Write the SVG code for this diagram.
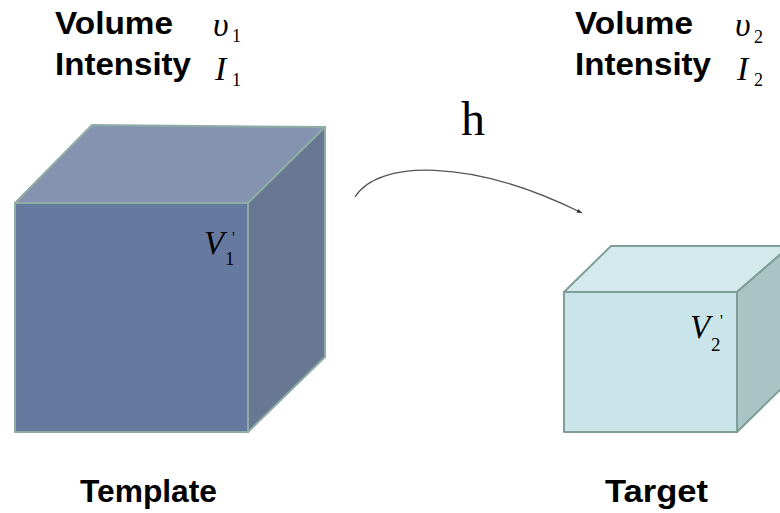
<svg xmlns="http://www.w3.org/2000/svg" width="780" height="513" viewBox="0 0 780 513">
<style>
.lbl{font-family:"Liberation Sans",Arial,sans-serif;font-weight:bold;fill:#000}
.math{font-family:"Liberation Serif","Times New Roman",serif;font-style:italic;fill:#000}
.sub{font-family:"Liberation Serif","Times New Roman",serif;fill:#000}
.c1{stroke:#8fada6;stroke-width:2;stroke-linejoin:round}
.c2{stroke:#7f9e99;stroke-width:2;stroke-linejoin:round}
</style>
<defs>
<marker id="arr" markerWidth="6" markerHeight="6" refX="3" refY="3" orient="auto" markerUnits="userSpaceOnUse">
<path d="M0,1 L6,3 L0,5 Z" fill="#333"/>
</marker>
</defs>
<rect width="780" height="513" fill="#fff"/>

<g id="labels-template">
<text class="lbl" x="55" y="34" font-size="32" textLength="118" lengthAdjust="spacingAndGlyphs">Volume</text>
<text class="lbl" x="55" y="75" font-size="32" textLength="136" lengthAdjust="spacingAndGlyphs">Intensity</text>
<text class="math" x="213" y="36" font-size="34">υ</text>
<text class="sub" x="232" y="42" font-size="18">1</text>
<text class="math" x="215" y="80" font-size="34">I</text>
<text class="sub" x="232" y="86" font-size="18">1</text>
</g>

<g id="labels-target">
<text class="lbl" x="575" y="34" font-size="32" textLength="118" lengthAdjust="spacingAndGlyphs">Volume</text>
<text class="lbl" x="575" y="75" font-size="32" textLength="136" lengthAdjust="spacingAndGlyphs">Intensity</text>
<text class="math" x="735" y="36" font-size="34">υ</text>
<text class="sub" x="754" y="43" font-size="18">2</text>
<text class="math" x="737" y="80" font-size="34">I</text>
<text class="sub" x="754" y="86" font-size="18">2</text>
</g>

<g id="template-cube">
<polygon class="c1" points="15,203 92,125 325,127 248,203" fill="#8593b0"/>
<polygon class="c1" points="248,203 325,127 325,357 248,432" fill="#687892"/>
<rect class="c1" x="15" y="203" width="233" height="229" fill="#66799f"/>
<text class="math" x="204" y="254" font-size="33">V</text>
<text class="sub" x="225" y="265" font-size="19">1</text>
<text class="sub" x="232" y="243" font-size="16">'</text>
</g>

<g id="target-cube">
<polygon class="c2" points="564,292 611,246 790,246 737,292" fill="#d4e9ec"/>
<polygon class="c2" points="737,292 790,246 790,380 737,432" fill="#a9c4c5"/>
<rect class="c2" x="564" y="292" width="173" height="140" fill="#c9e5e9"/>
<text class="math" x="690" y="338" font-size="33">V</text>
<text class="sub" x="711" y="351" font-size="19">2</text>
<text class="sub" x="720" y="326" font-size="16">'</text>
</g>

<g id="connectors">
<path d="M355,197 C378,160 470,158 580,212" fill="none" stroke="#555" stroke-width="1.3" marker-end="url(#arr)"/>
<text x="461" y="135" font-family="'Liberation Serif','Times New Roman',serif" font-size="48" fill="#000">h</text>
</g>

<g id="captions">
<text class="lbl" x="80" y="502" font-size="31" textLength="137" lengthAdjust="spacingAndGlyphs">Template</text>
<text class="lbl" x="605" y="502" font-size="31" textLength="103" lengthAdjust="spacingAndGlyphs">Target</text>
</g>
</svg>
